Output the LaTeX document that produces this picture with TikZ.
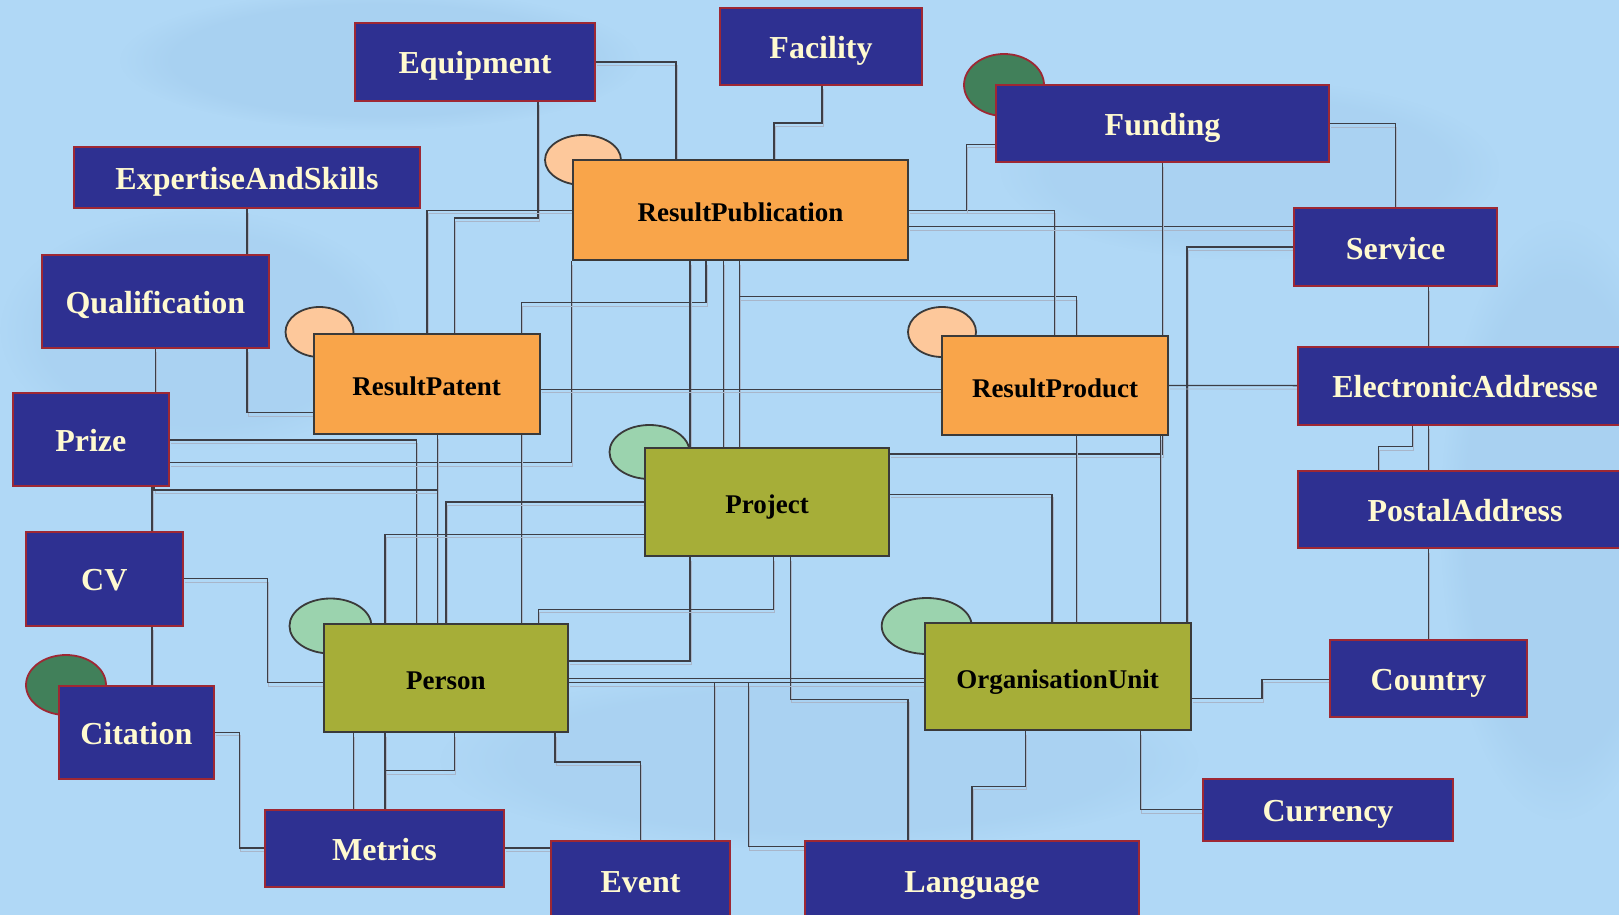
\documentclass[tikz,border=0pt]{standalone}
\usepackage{fontspec}
\setmainfont{Liberation Serif}
\usetikzlibrary{shapes.geometric,fadings}
\definecolor{bgblue}{RGB}{176,216,246}
\definecolor{boxblue}{RGB}{46,48,145}
\definecolor{boxred}{RGB}{158,40,52}
\definecolor{cream}{RGB}{255,250,208}
\definecolor{orangebox}{RGB}{249,165,74}
\definecolor{olivebox}{RGB}{166,174,56}
\definecolor{edgegray}{RGB}{58,58,58}
\definecolor{lineg}{RGB}{60,62,70}
\definecolor{shadowg}{RGB}{168,182,202}
\definecolor{lorange}{RGB}{253,200,155}
\definecolor{lgreen}{RGB}{155,211,174}
\definecolor{dgreen}{RGB}{65,128,90}
\definecolor{patch}{RGB}{120,165,210}
\pgfdeclarelayer{bglayer}
\pgfdeclarelayer{linelayer}
\pgfsetlayers{bglayer,linelayer,main}
\tikzset{
  sz/.style 2 args={minimum width=#1pt, minimum height=#2pt},
  ent/.style={rectangle, draw=boxred, line width=2pt, fill=boxblue, text=cream,
    font=\fontsize{32}{36}\selectfont\bfseries, inner sep=0pt,
    text height=30pt, text depth=6pt},
  res/.style={rectangle, draw=edgegray, line width=2pt, fill=orangebox, text=black,
    font=\fontsize{27}{30}\selectfont\bfseries, inner sep=0pt,
    text height=28.5pt, text depth=5pt},
  core/.style={res, fill=olivebox},
  blob/.style={ellipse, draw=edgegray, line width=1.8pt, inner sep=0pt},
  conn/.style={draw=lineg, line width=1.3pt,
    preaction={draw=shadowg, line width=0.9pt, transform canvas={shift={(1pt,-3.5pt)}}}},
}
\begin{document}
\begin{tikzpicture}[x=1pt,y=-1pt]
\useasboundingbox (0,0) rectangle (1619,915);
\begin{pgfonlayer}{bglayer}
\fill[bgblue] (0,0) rectangle (1619,915);
\fill[patch, opacity=0.13, path fading=circle with fuzzy edge 20 percent] (380,60) ellipse [x radius=260pt, y radius=70pt];
\fill[patch, opacity=0.1, path fading=circle with fuzzy edge 20 percent] (200,330) ellipse [x radius=200pt, y radius=120pt];
\fill[patch, opacity=0.1, path fading=circle with fuzzy edge 20 percent] (1250,170) ellipse [x radius=250pt, y radius=90pt];
\fill[patch, opacity=0.12, path fading=circle with fuzzy edge 20 percent] (1560,520) ellipse [x radius=120pt, y radius=300pt];
\fill[patch, opacity=0.1, path fading=circle with fuzzy edge 20 percent] (820,760) ellipse [x radius=380pt, y radius=90pt];
\end{pgfonlayer}

% markers behind the boxes
\node[blob, fill=dgreen, draw=boxred, sz={80}{62}] (efund) at (1004,85) {};
\node[blob, fill=lorange, sz={76}{50}] (erp) at (583,160) {};
\node[blob, fill=lorange, sz={68}{50}] (erpat) at (319.5,332) {};
\node[blob, fill=lorange, sz={68}{50}] (erprod) at (942,332) {};
\node[blob, fill=lgreen, sz={80}{54}] (eproj) at (649.5,452) {};
\node[blob, fill=lgreen, sz={82}{55}] (eperson) at (330.5,626) {};
\node[blob, fill=lgreen, sz={90}{56}] (eorg) at (926.7,626) {};
\node[blob, fill=dgreen, draw=boxred, sz={80}{60}] (ecit) at (66,685) {};

% entities
\node[ent, sz={240}{78}] (equip) at (475,62) {Equipment};
\node[ent, sz={202}{77}] (fac) at (821,46.5) {Facility};
\node[ent, sz={333}{77}] (fund) at (1162.5,123.5) {Funding};
\node[ent, sz={346}{61.5}] (exp) at (247,177.3) {ExpertiseAndSkills};
\node[ent, sz={227.5}{92.5}] (qual) at (155.3,301.3) {Qualification};
\node[ent, sz={156}{92.7}] (prize) at (90.8,439.7) {Prize};
\node[ent, sz={156.5}{93.8}] (cv) at (104.3,578.6) {CV};
\node[ent, sz={155.5}{93.3}] (cit) at (136.3,732.4) {Citation};
\node[ent, sz={239}{77}] (metrics) at (384.5,848) {Metrics};
\node[ent, sz={178.8}{78.6}] (event) at (640.6,880) {Event};
\node[ent, sz={334}{78.6}] (lang) at (972,880) {Language};
\node[ent, sz={250}{62.3}] (cur) at (1328,809.8) {Currency};
\node[ent, sz={197}{77.7}] (country) at (1428.5,678.6) {Country};
\node[ent, sz={334}{77.6}] (post) at (1465,509.5) {PostalAddress};
\node[ent, sz={334}{77.8}] (ea) at (1465,385.6) {ElectronicAddresse};
\node[ent, sz={202.7}{78}] (serv) at (1395.6,247) {Service};
\node[res, sz={335}{99.7}] (rp) at (740.5,210.2) {ResultPublication};
\node[res, sz={226.3}{100}] (rpat) at (426.7,384) {ResultPatent};
\node[res, sz={226}{99.6}] (rprod) at (1055,385.5) {ResultProduct};
\node[core, sz={244}{108}] (proj) at (767,502) {Project};
\node[core, sz={243.7}{108}] (person) at (445.9,678) {Person};
\node[core, sz={266.3}{107.6}] (org) at (1057.7,676.5) {OrganisationUnit};

\begin{pgfonlayer}{linelayer}
\draw[conn] (equip.east) -| (676,0 |- rp.north);
\draw[conn] (822,0 |- fac.south) |- (774,123) -- (774,0 |- rp.north);
\draw[conn] (538,0 |- equip.south) |- (454.5,218) -- (454.5,0 |- rpat.north);
\draw[conn] (rp.west) -| (427,0 |- rpat.north);
\draw[conn] (247,0 |- exp.south) -- (247,0 |- qual.north);
\draw[conn] (247,0 |- qual.south) |- (rpat.west |- 0,412.7);
\draw[conn] (155.5,0 |- qual.south) -- (155.5,0 |- prize.north);
\draw[conn] (prize.east |- 0,440) -| (416.7,0 |- person.north);
\draw[conn] (prize.east |- 0,462.7) -| (571.7,0 |- rp.south);
\draw[conn] (154,0 |- prize.south) |- (437.3,490) -- (437.3,0 |- person.north);
\draw[conn] (437.3,0 |- rpat.south) -- (437.3,490);
\draw[conn] (152,0 |- prize.south) -- (152,0 |- cv.north);
\draw[conn] (152,0 |- cv.south) -- (152,0 |- cit.north);
\draw[conn] (cv.east) -| (267.3,682.5) -- (person.west |- 0,682.5);
\draw[conn] (cit.east) -| (239.3,848) -- (metrics.west);
\draw[conn] (metrics.east) -- (event.west |- metrics.east);
\draw[conn] (353.3,0 |- person.south) -- (353.3,0 |- metrics.north);
\draw[conn] (385,0 |- person.south) -- (385,0 |- metrics.north);
\draw[conn] (454.3,0 |- person.south) |- (385,770.7);
\draw[conn] (555,0 |- person.south) |- (event.north |- 0,762) -- (event.north);
\draw[conn] (706,0 |- rp.south) |- (521.5,302.7) -- (521.5,0 |- person.north);
\draw[conn] (690,0 |- rp.south) -- (690,0 |- proj.north);
\draw[conn] (690,0 |- proj.south) |- (person.east |- 0,661);
\draw[conn] (723.3,0 |- rp.south) -- (723.3,0 |- proj.north);
\draw[conn] (739.3,0 |- rp.south) -- (739.3,0 |- proj.north);
\draw[conn] (739.3,0 |- proj.north) |- (1076.7,296.7) -- (1076.7,0 |- rprod.north);
\draw[conn] (rpat.east |- 0,389.3) -- (rprod.west |- 0,389.3);
\draw[conn] (rp.east) -| (1054.5,0 |- rprod.north);
\draw[conn] (fund.west |- 0,144.3) -| (966.8,0 |- rp.east);
\draw[conn] (rp.east |- 0,226.5) -- (serv.west |- 0,226.5);
\draw[conn] (fund.east) -| (serv.north);
\draw[conn] (fund.south) |- (proj.east |- 0,454);
\draw[conn] (1160.5,0 |- rprod.south) -- (1160.5,0 |- org.north);
\draw[conn] (1076.7,0 |- rprod.south) -- (1076.7,0 |- org.north);
\draw[conn] (serv.west) -| (1187,0 |- org.north);
\draw[conn] (proj.east |- 0,494.3) -| (1052,0 |- org.north);
\draw[conn] (rprod.east) -- (ea.west);
\draw[conn] (1428.7,0 |- serv.south) -- (1428.7,0 |- ea.north);
\draw[conn] (1428.7,0 |- ea.south) -- (1428.7,0 |- post.north);
\draw[conn] (1412.7,0 |- ea.south) |- (1378.7,446.7) -- (1378.7,0 |- post.north);
\draw[conn] (1428.7,0 |- post.south) -- (1428.7,0 |- country.north);
\draw[conn] (org.east |- 0,698.7) -| (1262,679.3) -- (country.west |- 0,679.3);
\draw[conn] (1140.2,0 |- org.south) |- (cur.west);
\draw[conn] (1025.7,0 |- org.south) |- (lang.north |- 0,786.3) -- (lang.north);
\draw[conn] (790.7,0 |- proj.south) |- (908,699.3) -- (908,0 |- lang.north);
\draw[conn] (773.3,0 |- proj.south) |- (538.3,609.3) -- (538.3,0 |- person.north);
\draw[conn] (proj.west) -| (446,0 |- person.north);
\draw[conn] (proj.west |- 0,534.3) -| (385,0 |- person.north);
\draw[conn] (person.east |- 0,678.7) -- (org.west |- 0,678.7);
\draw[conn] (person.east |- 0,682.7) -- (org.west |- 0,682.7);
\draw[conn] (org.west |- 0,682.7) -| (714.3,0 |- event.north);
\draw[conn] (org.west |- 0,682.7) -| (748.3,846.7) -- (lang.west |- 0,846.7);
\end{pgfonlayer}
\end{tikzpicture}
\end{document}
